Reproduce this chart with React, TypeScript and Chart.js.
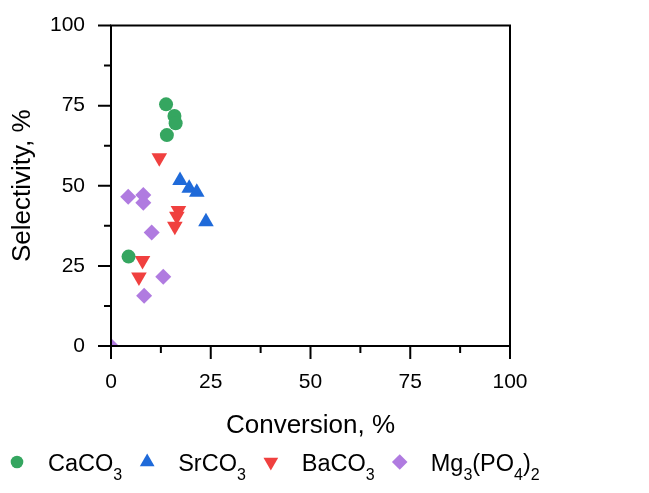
import React, { useEffect, useRef } from 'react';
import { Chart, registerables } from 'chart.js';
import { drawPoint } from 'chart.js/helpers';

Chart.register(...registerables);

const seriesNames = ['CaCO3', 'SrCO3', 'BaCO3', 'Mg3(PO4)2'];
const seriesColors = ['#35a660', '#1f6ad9', '#f0403f', '#b07be0'];

const caco3X = [13.8, 15.9, 16.2, 14.0, 4.4];
const caco3Y = [75.4, 71.8, 69.5, 65.8, 27.9];
const srco3X = [17.3, 19.6, 21.5, 23.8];
const srco3Y = [51.6, 49.2, 48.0, 38.8];
const baco3X = [12.1, 16.9, 16.5, 16.0, 7.9, 7.0];
const baco3Y = [58.7, 42.3, 40.5, 37.4, 26.7, 21.5];
const mgX = [4.3, 8.1, 8.1, 10.2, 13.1, 8.3, 0];
const mgY = [46.6, 47.1, 44.7, 35.4, 21.6, 15.7, 0];

const majorTicks = [0, 25, 50, 75, 100];
const minorTicks = [12.5, 37.5, 62.5, 87.5];

const FONT = '"Liberation Sans", Arial, Helvetica, sans-serif';

const toPoints = (xs: number[], ys: number[]) => xs.map((x, i) => ({ x, y: ys[i] }));

const framePlugin = {
  id: 'frameTicks',
  afterDatasetsDraw(chart: any) {
    const { ctx, chartArea, scales } = chart;
    const { left, right, top, bottom } = chartArea;
    const xs = scales.x;
    const ys = scales.y;
    ctx.save();
    ctx.strokeStyle = '#000';
    ctx.lineWidth = 2;
    ctx.strokeRect(left, top, right - left, bottom - top);
    ctx.beginPath();
    const tick = (v: number, len: number) => {
      const px = xs.getPixelForValue(v);
      ctx.moveTo(px, bottom);
      ctx.lineTo(px, bottom + len);
      const py = ys.getPixelForValue(v);
      ctx.moveTo(left, py);
      ctx.lineTo(left - len, py);
    };
    majorTicks.forEach((v) => tick(v, 13));
    minorTicks.forEach((v) => tick(v, 7));
    ctx.stroke();
    ctx.restore();
  },
};

const legendPlugin = {
  id: 'subLegend',
  afterDraw(chart: any) {
    const ctx = chart.ctx;
    const cy = 462;
    const baseline = 471;
    let x = 17;
    ctx.save();
    ctx.textBaseline = 'alphabetic';
    ctx.textAlign = 'left';
    chart.data.datasets.forEach((ds: any) => {
      ctx.fillStyle = ds.backgroundColor;
      drawPoint(
        ctx,
        {
          pointStyle: ds.pointStyle,
          radius: ds.pointStyle === 'circle' ? 6.3 : ds.pointStyle === 'rectRot' ? 7.8 : 8.5,
          rotation: ds.pointRotation || 0,
          borderWidth: 0,
        } as any,
        x,
        cy
      );
      let tx = x + 31;
      ctx.fillStyle = '#000';
      const parts = String(ds.label).split(/(\d+)/);
      parts.forEach((p: string, i: number) => {
        if (!p) return;
        const sub = i % 2 === 1;
        ctx.font = sub ? `16px ${FONT}` : `23.5px ${FONT}`;
        ctx.fillText(p, tx, sub ? baseline + 9 : baseline);
        tx += ctx.measureText(p).width;
      });
      x = tx + 25;
    });
    ctx.restore();
  },
};

export default function App() {
  const ref = useRef<HTMLCanvasElement | null>(null);

  useEffect(() => {
    document.body.style.margin = '0';
    if (!ref.current) return;
    const styles = [
      { pointStyle: 'circle', radius: 7, rotation: 0 },
      { pointStyle: 'triangle', radius: 9, rotation: 0 },
      { pointStyle: 'triangle', radius: 9, rotation: 180 },
      { pointStyle: 'rectRot', radius: 8, rotation: 0 },
    ];
    const pts = [
      toPoints(caco3X, caco3Y),
      toPoints(srco3X, srco3Y),
      toPoints(baco3X, baco3Y),
      toPoints(mgX, mgY),
    ];
    const chart = new Chart(ref.current, {
      type: 'scatter',
      data: {
        datasets: seriesNames.map((name, i) => ({
          label: name,
          data: pts[i],
          backgroundColor: seriesColors[i],
          borderColor: seriesColors[i],
          borderWidth: 0,
          pointStyle: styles[i].pointStyle as any,
          pointRadius: styles[i].radius,
          pointRotation: styles[i].rotation,
          pointHoverRadius: styles[i].radius,
          clip: 0,
        })),
      },
      options: {
        animation: false,
        responsive: false,
        layout: { padding: { left: 0, right: 139, top: 25.5, bottom: 48 } },
        plugins: {
          legend: { display: false },
          tooltip: { enabled: false },
        },
        scales: {
          x: {
            type: 'linear',
            min: 0,
            max: 100,
            afterFit: (s: any) => {
              s.height = 99;
            },
            afterBuildTicks: (s: any) => {
              s.ticks = majorTicks.map((v) => ({ value: v }));
            },
            grid: { display: false, drawTicks: false },
            border: { display: false },
            ticks: {
              padding: 24,
              color: '#000',
              font: { family: FONT, size: 21 },
              maxRotation: 0,
            },
            title: {
              display: true,
              text: 'Conversion, %',
              color: '#000',
              font: { family: FONT, size: 26 },
              padding: { top: 0, bottom: 4 },
            },
          },
          y: {
            type: 'linear',
            min: 0,
            max: 100,
            afterFit: (s: any) => {
              s.width = 111;
              s.paddingTop = 0;
              s.paddingBottom = 0;
            },
            afterBuildTicks: (s: any) => {
              s.ticks = majorTicks.map((v) => ({ value: v }));
            },
            grid: { display: false, drawTicks: false },
            border: { display: false },
            ticks: {
              padding: 26,
              color: '#000',
              font: { family: FONT, size: 21 },
            },
            title: {
              display: true,
              text: 'Selectivity, %',
              color: '#000',
              font: { family: FONT, size: 26 },
              padding: { top: 7, bottom: 0 },
            },
          },
        },
      },
      plugins: [framePlugin, legendPlugin],
    });
    return () => chart.destroy();
  }, []);

  return (
    <div style={{ width: 649, height: 493 }}>
      <canvas ref={ref} width={649} height={493} style={{ display: 'block' }} />
    </div>
  );
}
